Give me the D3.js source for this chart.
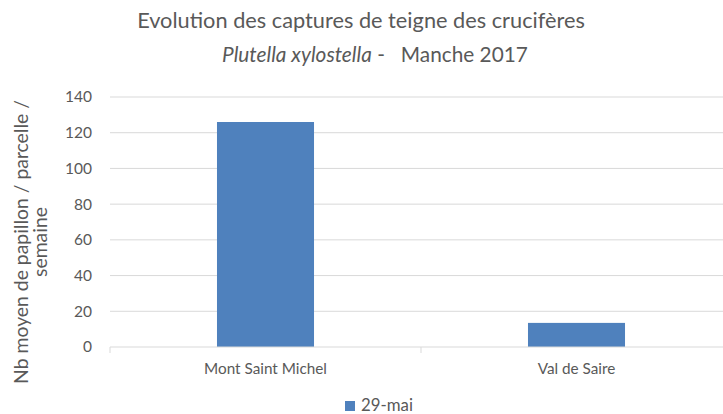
<!DOCTYPE html>
<html>
<head>
<meta charset="utf-8">
<script src="https://cdn.jsdelivr.net/npm/d3@7"></script>
<style>
  body { margin: 0; background: #fff; }
  svg { display: block; font-family: Lato, "Open Sans", sans-serif; }
</style>
</head>
<body>
<svg width="723" height="414"></svg>
<script>
const sites = ["Mont Saint Michel", "Val de Saire"];
const captures = [126, 13.5];   // 29-mai
const seriesName = "29-mai";
const yTicks = [0, 20, 40, 60, 80, 100, 120, 140];

const svg = d3.select("svg");
const textColor = "#595959";
const gridColor = "#d9d9d9";
const barColor = "#4f81bd";

const plotLeft = 110, plotRight = 732, plotTop = 97, plotBottom = 347;

// scale a text's font so it spans the width seen in the original (Calibri is narrower)
function fitWidth(sel, target) {
  const node = sel.node();
  const size = parseFloat(sel.style("font-size"));
  const len = node.getComputedTextLength();
  if (len > 0) sel.style("font-size", (size * target / len).toFixed(2) + "px");
  return sel;
}

const x = d3.scaleBand()
    .domain(sites)
    .range([plotLeft, plotRight])
    .paddingInner(0.688)
    .paddingOuter(0.344);

const y = d3.scaleLinear()
    .domain([0, 140])
    .range([plotBottom, plotTop]);

// gridlines
svg.append("g")
    .selectAll("line")
    .data(yTicks.filter(d => d > 0))
    .join("line")
    .attr("x1", plotLeft).attr("x2", 723)
    .attr("y1", d => y(d)).attr("y2", d => y(d))
    .attr("stroke", gridColor).attr("stroke-width", 1);

// y axis labels
const yAxis = svg.append("g")
    .attr("transform", `translate(${plotLeft - 18},0)`)
    .call(d3.axisLeft(y).tickValues(yTicks).tickSize(0).tickPadding(0));
yAxis.select(".domain").remove();
yAxis.selectAll("text")
    .attr("fill", textColor)
    .style("font-size", "15.5px")
    .style("font-family", "Lato, sans-serif");

// bars
svg.append("g")
    .selectAll("rect")
    .data(sites)
    .join("rect")
    .attr("x", d => x(d))
    .attr("width", x.bandwidth())
    .attr("y", (d, i) => y(captures[i]))
    .attr("height", (d, i) => plotBottom - y(captures[i]))
    .attr("fill", barColor);

// x axis baseline with category boundary ticks
const xAxis = svg.append("g").attr("transform", `translate(0,${plotBottom})`);
xAxis.append("line")
    .attr("x1", plotLeft).attr("x2", 723)
    .attr("stroke", gridColor);
const step = x.step();
xAxis.selectAll("line.tick")
    .data(d3.range(sites.length + 1))
    .join("line")
    .attr("class", "tick")
    .attr("x1", i => plotLeft + i * step).attr("x2", i => plotLeft + i * step)
    .attr("y1", 0).attr("y2", 6)
    .attr("stroke", gridColor);
xAxis.selectAll("text")
    .data(sites)
    .join("text")
    .attr("x", d => x(d) + x.bandwidth() / 2)
    .attr("y", 27)
    .attr("text-anchor", "middle")
    .attr("fill", textColor)
    .style("font-size", "15px")
    .text(d => d);
fitWidth(xAxis.selectAll("text").filter((d, i) => i === 0), 123);
xAxis.selectAll("text").filter((d, i) => i === 1)
    .style("font-size", xAxis.selectAll("text").filter((d, i) => i === 0).style("font-size"));

// y axis title
const yTitle = svg.append("text")
    .attr("transform", "translate(28,242) rotate(-90)")
    .attr("text-anchor", "middle")
    .attr("fill", textColor)
    .style("font-size", "18px");
const yLine1 = yTitle.append("tspan").attr("x", 0).attr("y", 0).text("Nb moyen de papillon / parcelle /");
yTitle.append("tspan").attr("x", 0).attr("y", 19).text("semaine");
const ratio = 284 / yLine1.node().getComputedTextLength();
yTitle.style("font-size", (18 * ratio).toFixed(2) + "px");

// title
const title = svg.append("text")
    .attr("x", 361).attr("y", 28)
    .attr("text-anchor", "middle")
    .attr("fill", textColor)
    .style("font-size", "21px")
    .text("Evolution des captures de teigne des crucifères");
fitWidth(title, 448);

const sub = svg.append("text")
    .attr("x", 375).attr("y", 62)
    .attr("text-anchor", "middle")
    .attr("fill", textColor)
    .style("font-size", "18px");
sub.append("tspan").style("font-style", "italic").text("Plutella xylostella");
sub.append("tspan").attr("xml:space", "preserve").text(" -   Manche 2017");
fitWidth(sub, 306);

// legend
const legend = svg.append("g").attr("transform", "translate(345,401)");
legend.append("rect")
    .attr("width", 10).attr("height", 10)
    .attr("fill", barColor);
const legText = legend.append("text")
    .attr("x", 16).attr("y", 10)
    .attr("fill", textColor)
    .style("font-size", "16px")
    .text(seriesName);
fitWidth(legText, 52);
</script>
</body>
</html>
